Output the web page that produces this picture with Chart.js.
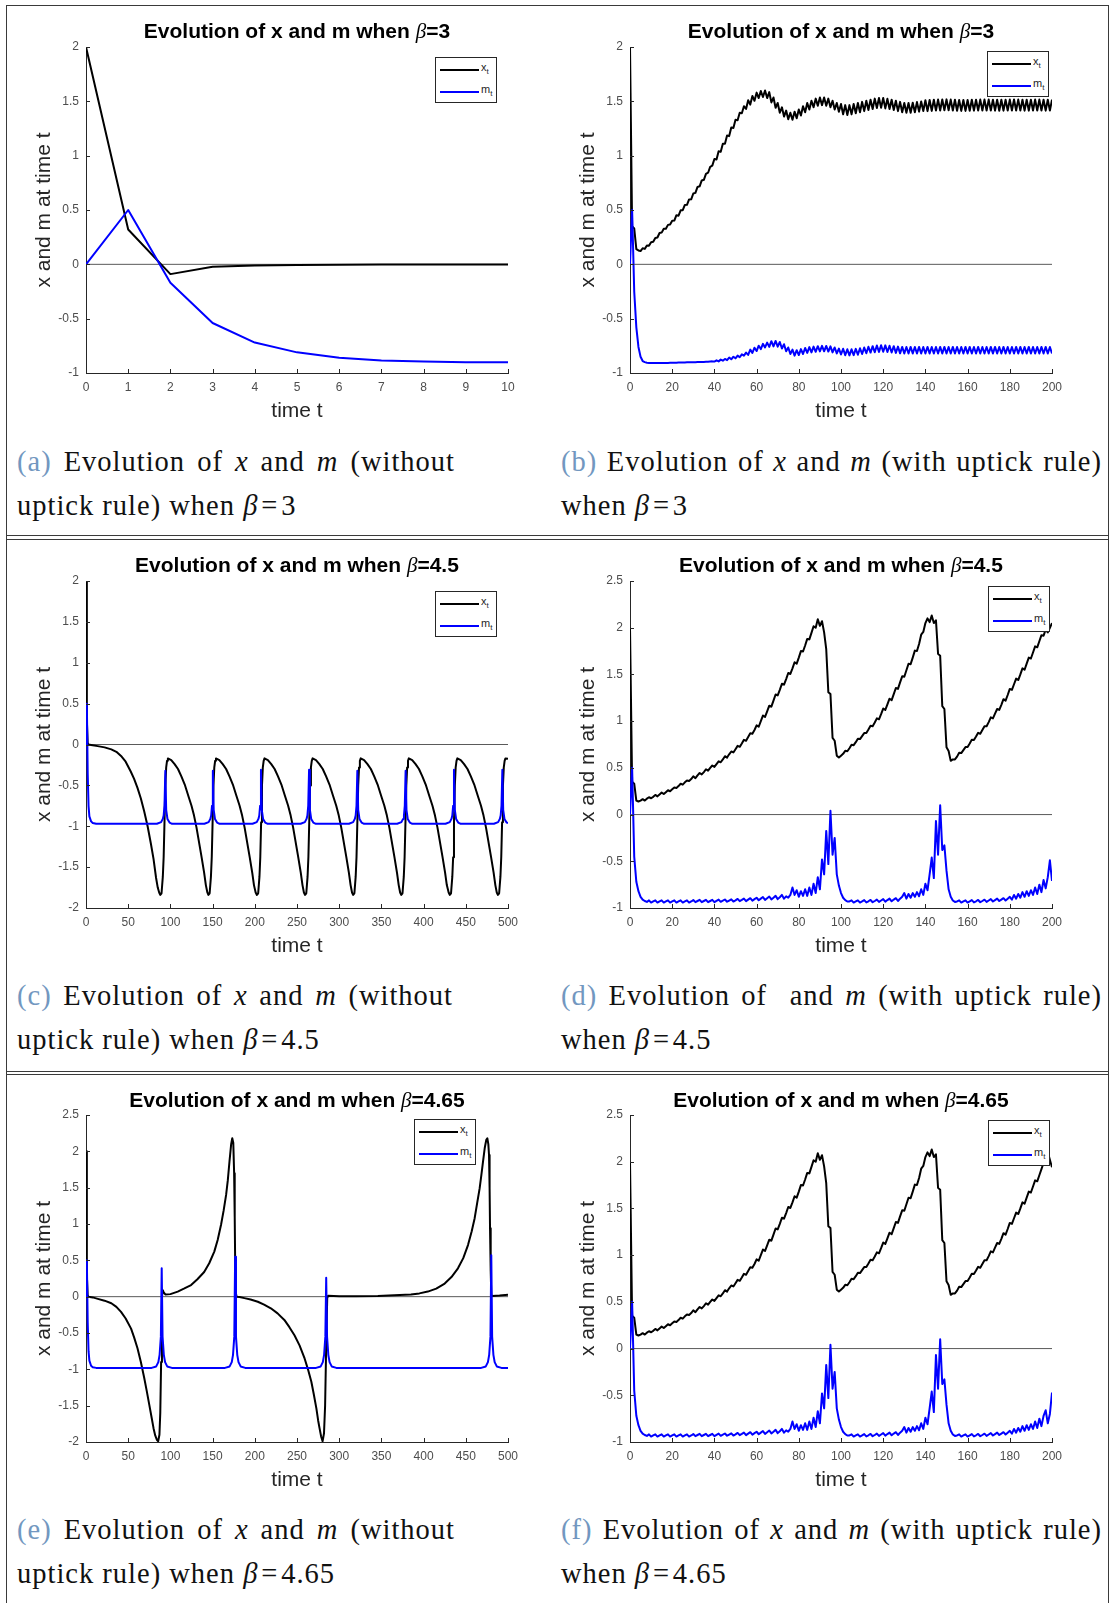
<!DOCTYPE html>
<html>
<head>
<meta charset="utf-8">
<script src="https://cdn.jsdelivr.net/npm/chart.js@4"></script>
<style>
  body { margin: 0; background: #fff; }
  #page { position: relative; width: 1110px; height: 1603px; overflow: hidden; background: #fff; }
  canvas { position: absolute; }
  .hl { position: absolute; left: 6px; width: 1103px; height: 1px; background: #3a3a3a; }
  .vl { position: absolute; top: 5px; width: 1px; height: 1598px; background: #3a3a3a; }
  .ttl { position: absolute; width: 500px; text-align: center; font: bold 21px 'Liberation Sans', Arial, sans-serif; line-height: 24px; color: #000; white-space: nowrap; }
  .ttl i { font: italic 400 21px 'Liberation Serif', serif; }
  .lg { position: absolute; width: 62px; height: 46px; border: 1px solid #262626; background: #fff; box-sizing: border-box; }
  .lg b { position: absolute; left: 4px; width: 39px; height: 2px; }
  .lg span { position: absolute; left: 45px; font: 11px 'Liberation Sans', Arial, sans-serif; color: #262626; line-height: 12px; }
  .lg sub { font-size: 8px; }
  .cap { position: absolute; font: 28.5px 'Liberation Serif', serif; letter-spacing: 1px; line-height: 44px; color: #111; white-space: nowrap; }
  .cap .l1 { text-align: justify; text-align-last: justify; }
  .cap .lab { color: #7297c0; }
  .cap .eq { margin: 0 0.1em; }
</style>
</head>
<body>
<div id="page">
  <div class="hl" style="top:5px"></div>
  <div class="hl" style="top:535px"></div>
  <div class="hl" style="top:539px"></div>
  <div class="hl" style="top:1071px"></div>
  <div class="hl" style="top:1074px"></div>
  <div class="vl" style="left:6px"></div>
  <div class="vl" style="left:1108px"></div>

  <canvas id="ca" width="540" height="424" style="left:0;top:0"></canvas>
  <canvas id="cb" width="540" height="424" style="left:544px;top:0"></canvas>
  <canvas id="cc" width="540" height="425" style="left:0;top:534px"></canvas>
  <canvas id="cd" width="540" height="425" style="left:544px;top:534px"></canvas>
  <canvas id="ce" width="540" height="425" style="left:0;top:1068px"></canvas>
  <canvas id="cf" width="540" height="425" style="left:544px;top:1068px"></canvas>

  <div class="ttl" style="left:47px;top:19px">Evolution of x and m when <i>β</i>=3</div>
  <div class="ttl" style="left:591px;top:19px">Evolution of x and m when <i>β</i>=3</div>
  <div class="ttl" style="left:47px;top:553px">Evolution of x and m when <i>β</i>=4.5</div>
  <div class="ttl" style="left:591px;top:553px">Evolution of x and m when <i>β</i>=4.5</div>
  <div class="ttl" style="left:47px;top:1088px">Evolution of x and m when <i>β</i>=4.65</div>
  <div class="ttl" style="left:591px;top:1088px">Evolution of x and m when <i>β</i>=4.65</div>

  <div class="lg" style="left:435px;top:57px"><b style="top:11px;background:#000"></b><span style="top:3px">x<sub>t</sub></span><b style="top:33px;background:#00f"></b><span style="top:25px">m<sub>t</sub></span></div>
  <div class="lg" style="left:987px;top:51px"><b style="top:11px;background:#000"></b><span style="top:3px">x<sub>t</sub></span><b style="top:33px;background:#00f"></b><span style="top:25px">m<sub>t</sub></span></div>
  <div class="lg" style="left:435px;top:591px"><b style="top:11px;background:#000"></b><span style="top:3px">x<sub>t</sub></span><b style="top:33px;background:#00f"></b><span style="top:25px">m<sub>t</sub></span></div>
  <div class="lg" style="left:988px;top:586px"><b style="top:11px;background:#000"></b><span style="top:3px">x<sub>t</sub></span><b style="top:33px;background:#00f"></b><span style="top:25px">m<sub>t</sub></span></div>
  <div class="lg" style="left:414px;top:1119px"><b style="top:11px;background:#000"></b><span style="top:3px">x<sub>t</sub></span><b style="top:33px;background:#00f"></b><span style="top:25px">m<sub>t</sub></span></div>
  <div class="lg" style="left:988px;top:1120px"><b style="top:11px;background:#000"></b><span style="top:3px">x<sub>t</sub></span><b style="top:33px;background:#00f"></b><span style="top:25px">m<sub>t</sub></span></div>

  <div class="cap" style="left:17px;top:440px;width:438px">
    <div class="l1"><span class="lab">(a)</span> Evolution of <i>x</i> and <i>m</i> (without</div>
    <div>uptick rule) when <i>β</i><span class="eq">=</span>3</div>
  </div>
  <div class="cap" style="left:561px;top:440px;width:541px">
    <div class="l1"><span class="lab">(b)</span> Evolution of <i>x</i> and <i>m</i> (with uptick rule)</div>
    <div>when <i>β</i><span class="eq">=</span>3</div>
  </div>
  <div class="cap" style="left:17px;top:974px;width:436px">
    <div class="l1"><span class="lab">(c)</span> Evolution of <i>x</i> and <i>m</i> (without</div>
    <div>uptick rule) when <i>β</i><span class="eq">=</span>4.5</div>
  </div>
  <div class="cap" style="left:561px;top:974px;width:541px">
    <div class="l1"><span class="lab">(d)</span> Evolution of &nbsp;and <i>m</i> (with uptick rule)</div>
    <div>when <i>β</i><span class="eq">=</span>4.5</div>
  </div>
  <div class="cap" style="left:17px;top:1508px;width:438px">
    <div class="l1"><span class="lab">(e)</span> Evolution of <i>x</i> and <i>m</i> (without</div>
    <div>uptick rule) when <i>β</i><span class="eq">=</span>4.65</div>
  </div>
  <div class="cap" style="left:561px;top:1508px;width:541px">
    <div class="l1"><span class="lab">(f)</span> Evolution of <i>x</i> and <i>m</i> (with uptick rule)</div>
    <div>when <i>β</i><span class="eq">=</span>4.65</div>
  </div>
</div>

<script>
// (a) beta=3, no uptick rule
const aT = [0, 1, 2, 3, 4, 5, 6, 7, 8, 9, 10];
const aX = [2, 0.32, -0.09, -0.022, -0.01, -0.005, -0.003, -0.002, -0.001, -0.001, -0.001];
const aM = [0, 0.5, -0.17, -0.54, -0.72, -0.81, -0.86, -0.885, -0.895, -0.9, -0.9];

// (b) beta=3, uptick rule, t = 0..200
const bX = [
  2.00, 0.35, 0.33, 0.14, 0.128, 0.122, 0.148, 0.142, 0.173, 0.172,
  0.203, 0.207, 0.243, 0.247, 0.288, 0.292, 0.328, 0.327, 0.363, 0.367,
  0.402, 0.403, 0.452, 0.448, 0.497, 0.498, 0.547, 0.548, 0.597, 0.598,
  0.652, 0.658, 0.712, 0.718, 0.772, 0.778, 0.832, 0.843, 0.897, 0.908,
  0.97, 0.965, 1.04, 1.035, 1.11, 1.11, 1.185, 1.18, 1.26, 1.255,
  1.33, 1.325, 1.395, 1.39, 1.455, 1.43, 1.51, 1.47, 1.55, 1.505,
  1.58, 1.53, 1.595, 1.54, 1.60, 1.53, 1.585, 1.49, 1.535, 1.44,
  1.485, 1.395, 1.445, 1.36, 1.415, 1.335, 1.395, 1.33, 1.405, 1.345,
  1.425, 1.37, 1.455, 1.40, 1.485, 1.425, 1.505, 1.445, 1.525, 1.46,
  1.535, 1.465, 1.535, 1.46, 1.525, 1.445, 1.505, 1.425, 1.485, 1.405,
  1.475, 1.38, 1.465, 1.375, 1.465, 1.38, 1.475, 1.39, 1.485, 1.40,
  1.495, 1.41, 1.505, 1.42, 1.515, 1.43, 1.525, 1.438, 1.53, 1.44,
  1.53, 1.435, 1.523, 1.43, 1.515, 1.42, 1.505, 1.41, 1.495, 1.40,
  1.485, 1.395, 1.485, 1.395, 1.487, 1.40, 1.493, 1.405, 1.498, 1.411,
  1.51, 1.41, 1.512, 1.412, 1.515, 1.415, 1.516, 1.416, 1.517, 1.418,
  1.518, 1.418, 1.516, 1.415, 1.514, 1.413, 1.512, 1.412, 1.512, 1.412,
  1.512, 1.413, 1.514, 1.414, 1.515, 1.415, 1.516, 1.416, 1.516, 1.416,
  1.516, 1.415, 1.515, 1.414, 1.514, 1.413, 1.514, 1.414, 1.515, 1.415,
  1.516, 1.416, 1.517, 1.416, 1.516, 1.415, 1.515, 1.414, 1.514, 1.414,
  1.515, 1.415, 1.516, 1.416, 1.516, 1.415, 1.515, 1.414, 1.515, 1.415,
  1.516
];
const bM = [
  0, 0.5, -0.25, -0.58, -0.76, -0.85, -0.89, -0.90, -0.905, -0.907,
  -0.908, -0.908, -0.908, -0.908, -0.908, -0.908, -0.907, -0.907, -0.907, -0.906,
  -0.906, -0.905, -0.905, -0.904, -0.904, -0.903, -0.903, -0.902, -0.902, -0.901,
  -0.90, -0.90, -0.899, -0.899, -0.898, -0.898, -0.897, -0.896, -0.894, -0.893,
  -0.895, -0.883, -0.893, -0.877, -0.887, -0.871, -0.882, -0.858, -0.874, -0.85,
  -0.865, -0.84, -0.855, -0.828, -0.84, -0.812, -0.834, -0.785, -0.816, -0.767,
  -0.798, -0.749, -0.78, -0.732, -0.765, -0.72, -0.76, -0.707, -0.755, -0.705,
  -0.758, -0.715, -0.775, -0.735, -0.80, -0.765, -0.825, -0.785, -0.84, -0.79,
  -0.835, -0.78, -0.825, -0.77, -0.815, -0.762, -0.81, -0.757, -0.805, -0.753,
  -0.801, -0.75, -0.80, -0.751, -0.803, -0.755, -0.81, -0.765, -0.82, -0.775,
  -0.83, -0.777, -0.836, -0.782, -0.838, -0.782, -0.836, -0.778, -0.832, -0.772,
  -0.825, -0.766, -0.818, -0.759, -0.812, -0.753, -0.809, -0.747, -0.806, -0.745,
  -0.805, -0.746, -0.807, -0.749, -0.811, -0.753, -0.815, -0.757, -0.819, -0.76,
  -0.821, -0.761, -0.82, -0.76, -0.821, -0.761, -0.82, -0.76, -0.821, -0.761,
  -0.82, -0.76, -0.82, -0.761, -0.821, -0.761, -0.82, -0.76, -0.82, -0.76,
  -0.821, -0.761, -0.82, -0.76, -0.82, -0.761, -0.821, -0.761, -0.82, -0.76,
  -0.82, -0.76, -0.821, -0.761, -0.82, -0.76, -0.82, -0.761, -0.821, -0.761,
  -0.82, -0.76, -0.82, -0.76, -0.821, -0.761, -0.82, -0.76, -0.82, -0.761,
  -0.821, -0.761, -0.82, -0.76, -0.82, -0.76, -0.821, -0.761, -0.82, -0.76,
  -0.82, -0.761, -0.821, -0.761, -0.82, -0.76, -0.82, -0.76, -0.821, -0.761,
  -0.82
];

// (c) beta=4.5, no uptick rule
const cTx = [
  0, 1, 2, 3, 6, 14, 22, 30, 36, 41.5, 47, 53, 57, 61, 65, 69, 73, 77, 80, 83, 85, 86.7,
  88, 89.5, 91, 92, 93, 94, 95, 96, 97, 101, 105, 109, 113, 117, 121, 125, 128, 131, 134, 137, 140, 142, 143.8,
  145, 146.5, 148, 149, 150, 151, 152, 153, 154, 158, 162, 166, 170, 174, 178, 182, 185, 188, 191, 194, 197, 199, 201,
  202.5, 204, 205.5, 206.5, 207.5, 208.5, 209.5, 210.5, 211.5, 215.5, 219.5, 223.5, 227.5, 231.5, 235.5, 239.5, 242.5, 245.5, 248.5, 251.5, 254.5, 256.5, 258.2,
  259.5, 261, 262.5, 263.5, 264.5, 265.5, 266.5, 267.5, 268.5, 272.5, 276.5, 280.5, 284.5, 288.5, 292.5, 296.5, 299.5, 302.5, 305.5, 308.5, 311.5, 313.5, 315.2,
  316.5, 318, 319.5, 320.5, 321.5, 322.5, 323.5, 324.5, 325.5, 329.5, 333.5, 337.5, 341.5, 345.5, 349.5, 353.5, 356.5, 359.5, 362.5, 365.5, 368.5, 370.5, 372.2,
  373.5, 375, 376.5, 377.5, 378.5, 379.5, 380.5, 381.5, 382.5, 386.5, 390.5, 394.5, 398.5, 402.5, 406.5, 410.5, 413.5, 416.5, 419.5, 422.5, 425.5, 427.5, 429.7,
  431, 432.5, 434, 435, 436, 437, 438, 439, 440, 444, 448, 452, 456, 460, 464, 468, 471, 474, 477, 480, 483, 485, 486.7,
  488, 489.5, 491, 492, 493, 494, 495, 496, 497, 500
];
const cX = [
  2, 0.3, 0.02, 0, -0.005, -0.02, -0.035, -0.06, -0.09, -0.14, -0.21, -0.33, -0.42, -0.53, -0.66, -0.82, -1.0, -1.22, -1.40, -1.63, -1.75, -1.81,
  -1.84, -1.82, -1.62, -1.38, -0.95, -0.50, -0.28, -0.20, -0.17, -0.19, -0.24, -0.30, -0.39, -0.49, -0.62, -0.75, -0.87, -1.02, -1.20, -1.38, -1.57, -1.72, -1.81,
  -1.84, -1.82, -1.62, -1.38, -0.95, -0.50, -0.28, -0.20, -0.17, -0.19, -0.24, -0.30, -0.39, -0.49, -0.62, -0.75, -0.87, -1.02, -1.20, -1.38, -1.57, -1.72, -1.81,
  -1.84, -1.82, -1.62, -1.38, -0.95, -0.50, -0.28, -0.20, -0.17, -0.19, -0.24, -0.30, -0.39, -0.49, -0.62, -0.75, -0.87, -1.02, -1.20, -1.38, -1.57, -1.72, -1.81,
  -1.84, -1.82, -1.62, -1.38, -0.95, -0.50, -0.28, -0.20, -0.17, -0.19, -0.24, -0.30, -0.39, -0.49, -0.62, -0.75, -0.87, -1.02, -1.20, -1.38, -1.57, -1.72, -1.81,
  -1.84, -1.82, -1.62, -1.38, -0.95, -0.50, -0.28, -0.20, -0.17, -0.19, -0.24, -0.30, -0.39, -0.49, -0.62, -0.75, -0.87, -1.02, -1.20, -1.38, -1.57, -1.72, -1.81,
  -1.84, -1.82, -1.62, -1.38, -0.95, -0.50, -0.28, -0.20, -0.17, -0.19, -0.24, -0.30, -0.39, -0.49, -0.62, -0.75, -0.87, -1.02, -1.20, -1.38, -1.57, -1.72, -1.81,
  -1.84, -1.82, -1.62, -1.38, -0.95, -0.50, -0.28, -0.20, -0.17, -0.19, -0.24, -0.30, -0.39, -0.49, -0.62, -0.75, -0.87, -1.02, -1.20, -1.38, -1.57, -1.72, -1.81,
  -1.84, -1.82, -1.62, -1.38, -0.95, -0.50, -0.28, -0.20, -0.17, -0.175
];
const cTm = [
  0, 1, 2, 3, 4, 6, 8, 12,
  84, 89, 91, 92, 93, 94, 95, 96.5, 99, 102,
  140.3, 145.3, 147.3, 148.3, 149.3, 150.3, 151.3, 152.8, 155.3, 158.3,
  197.3, 202.3, 204.3, 205.3, 206.3, 207.3, 208.3, 209.8, 212.3, 215.3,
  254.3, 259.3, 261.3, 262.3, 263.3, 264.3, 265.3, 266.8, 269.3, 272.3,
  311.5, 316.5, 318.5, 319.5, 320.5, 321.5, 322.5, 324, 326.5, 329.5,
  368.7, 373.7, 375.7, 376.7, 377.7, 378.7, 379.7, 381.2, 383.7, 386.7,
  426, 431, 433, 434, 435, 436, 437, 438.5, 441, 444,
  483.3, 488.3, 490.3, 491.3, 492.3, 493.3, 494.3, 495.8, 498.3, 500
];
const cM = [
  0, 0.5, -0.35, -0.75, -0.88, -0.94, -0.96, -0.97,
  -0.97, -0.95, -0.91, -0.87, -0.75, -0.32, -0.80, -0.91, -0.955, -0.97,
  -0.97, -0.95, -0.91, -0.87, -0.75, -0.32, -0.80, -0.91, -0.955, -0.97,
  -0.97, -0.95, -0.91, -0.87, -0.75, -0.31, -0.80, -0.91, -0.955, -0.97,
  -0.97, -0.95, -0.91, -0.87, -0.75, -0.31, -0.80, -0.91, -0.955, -0.97,
  -0.97, -0.95, -0.91, -0.87, -0.75, -0.32, -0.80, -0.91, -0.955, -0.97,
  -0.97, -0.95, -0.91, -0.87, -0.75, -0.32, -0.80, -0.91, -0.955, -0.97,
  -0.97, -0.95, -0.91, -0.87, -0.75, -0.31, -0.80, -0.91, -0.955, -0.97,
  -0.97, -0.95, -0.91, -0.87, -0.75, -0.31, -0.80, -0.91, -0.955, -0.96
];

// (d) beta=4.5, uptick rule, t = 0..200
const dX = [
  2.00, 0.35, 0.33, 0.15, 0.14, 0.15, 0.165, 0.15, 0.17, 0.185,
  0.175, 0.19, 0.21, 0.195, 0.215, 0.235, 0.22, 0.24, 0.26, 0.25,
  0.27, 0.29, 0.285, 0.305, 0.33, 0.32, 0.345, 0.365, 0.36, 0.38,
  0.41, 0.39, 0.42, 0.445, 0.43, 0.455, 0.485, 0.47, 0.50, 0.525,
  0.51, 0.54, 0.57, 0.56, 0.59, 0.625, 0.61, 0.645, 0.675, 0.665,
  0.70, 0.735, 0.725, 0.76, 0.80, 0.79, 0.83, 0.87, 0.865, 0.905,
  0.955, 0.94, 1.00, 1.06, 1.045, 1.105, 1.165, 1.155, 1.22, 1.285,
  1.275, 1.335, 1.40, 1.39, 1.45, 1.515, 1.505, 1.565, 1.63, 1.615,
  1.68, 1.75, 1.745, 1.81, 1.88, 1.875, 1.945, 2.015, 2.00, 2.09,
  2.02, 2.07, 1.95, 1.77, 1.31, 1.29, 0.82, 0.79, 0.63, 0.61,
  0.63, 0.65, 0.682, 0.678, 0.71, 0.747, 0.743, 0.775, 0.812, 0.808,
  0.84, 0.872, 0.873, 0.91, 0.95, 0.945, 0.985, 1.03, 1.02, 1.075,
  1.135, 1.12, 1.18, 1.24, 1.225, 1.29, 1.355, 1.345, 1.415, 1.48,
  1.475, 1.545, 1.615, 1.61, 1.68, 1.755, 1.75, 1.825, 1.925, 1.955,
  2.05, 2.10, 2.06, 2.13, 2.05, 2.08, 1.72, 1.70, 1.16, 1.13,
  0.72, 0.68, 0.575, 0.59, 0.59, 0.62, 0.662, 0.658, 0.69, 0.722,
  0.723, 0.76, 0.802, 0.798, 0.835, 0.875, 0.865, 0.905, 0.945, 0.945,
  0.99, 1.04, 1.03, 1.08, 1.13, 1.12, 1.175, 1.235, 1.22, 1.28,
  1.345, 1.335, 1.395, 1.455, 1.44, 1.50, 1.565, 1.55, 1.615, 1.68,
  1.67, 1.735, 1.80, 1.79, 1.855, 1.92, 1.915, 1.98, 1.95, 2.00,
  2.05
];
const dM = [
  0, 0.5, -0.45, -0.72, -0.82, -0.88, -0.91, -0.925, -0.935, -0.918,
  -0.942, -0.93, -0.918, -0.942, -0.93, -0.918, -0.942, -0.93, -0.918, -0.942,
  -0.93, -0.918, -0.942, -0.93, -0.918, -0.942, -0.93, -0.918, -0.942, -0.93,
  -0.915, -0.937, -0.925, -0.913, -0.937, -0.925, -0.913, -0.937, -0.925, -0.913,
  -0.937, -0.923, -0.91, -0.934, -0.922, -0.909, -0.933, -0.92, -0.907, -0.931,
  -0.918, -0.903, -0.927, -0.914, -0.9, -0.926, -0.91, -0.895, -0.922, -0.905,
  -0.89, -0.917, -0.9, -0.883, -0.913, -0.895, -0.877, -0.908, -0.89, -0.87,
  -0.905, -0.885, -0.86, -0.90, -0.875, -0.89, -0.86, -0.78, -0.86, -0.81,
  -0.88, -0.82, -0.87, -0.80, -0.87, -0.78, -0.86, -0.74, -0.84, -0.67,
  -0.80, -0.48, -0.64, -0.175, -0.53, 0.04, -0.43, -0.25, -0.64, -0.76,
  -0.84, -0.89, -0.915, -0.93, -0.93, -0.918, -0.942, -0.93, -0.918, -0.942,
  -0.93, -0.916, -0.94, -0.928, -0.914, -0.938, -0.925, -0.91, -0.935, -0.92,
  -0.905, -0.932, -0.915, -0.9, -0.928, -0.91, -0.895, -0.925, -0.9, -0.88,
  -0.84, -0.9, -0.85, -0.89, -0.84, -0.88, -0.83, -0.875, -0.80, -0.86,
  -0.74, -0.81, -0.64, -0.46, -0.68, -0.07, -0.43, 0.1, -0.38, -0.33,
  -0.6, -0.8, -0.88, -0.92, -0.935, -0.93, -0.918, -0.942, -0.93, -0.918,
  -0.942, -0.93, -0.916, -0.94, -0.928, -0.914, -0.938, -0.925, -0.911, -0.935,
  -0.92, -0.905, -0.93, -0.915, -0.9, -0.925, -0.91, -0.895, -0.92, -0.9,
  -0.88, -0.91, -0.86, -0.9, -0.85, -0.89, -0.83, -0.88, -0.82, -0.87,
  -0.81, -0.86, -0.78, -0.85, -0.75, -0.83, -0.7, -0.79, -0.67, -0.49,
  -0.71
];

// (e) beta=4.65, no uptick rule
const eTx = [
  0, 1, 2, 3, 8, 14, 22, 30, 36, 41.5, 47, 53.4, 57, 61, 65, 69, 72, 75, 78, 80,
  82, 84, 85.5, 87, 88, 89, 90, 91, 92, 94, 100, 108.7, 116, 124.5, 132, 140, 146, 152, 156, 160,
  163, 166, 168, 170, 172, 173.3, 174.5, 175.5, 176.2, 176.8, 177.5, 178.5, 182, 187.7, 195, 203.6, 211, 219, 227, 235,
  241, 247, 253, 259, 263, 267, 270, 273, 275, 276.7, 278.5, 280.3, 282, 283.3, 284.6, 285.8, 286.8, 300, 320, 345.8,
  365, 385, 395, 405, 415, 425, 433, 440.7, 447, 452.6, 457, 460.5, 463.5, 466.4, 468.5, 470.4, 472.5, 474.3, 475.5, 476.7,
  477.5, 478.2, 478.7, 479.5, 480.2, 481.5, 490, 500
];
const eX = [
  2, 0.3, 0.02, 0, -0.01, -0.03, -0.055, -0.09, -0.14, -0.21, -0.30, -0.44, -0.56, -0.71, -0.90, -1.12, -1.30, -1.49, -1.68, -1.81,
  -1.91, -1.97, -1.99, -1.90, -1.60, -0.90, 0.0, 0.09, 0.06, 0.03, 0.035, 0.07, 0.11, 0.16, 0.24, 0.34, 0.46, 0.62, 0.78, 0.99,
  1.18, 1.40, 1.60, 1.86, 2.10, 2.18, 2.12, 1.70, 1.10, 0.40, 0.05, 0.0, -0.005, -0.02, -0.04, -0.07, -0.11, -0.16, -0.23, -0.32,
  -0.42, -0.53, -0.67, -0.85, -1.0, -1.17, -1.35, -1.54, -1.70, -1.81, -1.92, -1.99, -1.88, -1.50, -0.67, -0.02, 0.012, 0.005, 0.006, 0.01,
  0.018, 0.03, 0.045, 0.07, 0.11, 0.18, 0.27, 0.39, 0.53, 0.71, 0.90, 1.08, 1.29, 1.49, 1.68, 1.86, 2.05, 2.16, 2.18, 2.10,
  1.95, 1.50, 0.94, 0.35, 0.02, 0.01, 0.015, 0.025
];
const eTm = [
  0, 1, 2, 3, 4, 6, 8, 12,
  77.7, 83.2, 85.7, 87.2, 88.7, 89.7, 90.7, 92.2, 93.7, 96.2, 101.7,
  164.7, 170.2, 172.7, 174.2, 175.7, 176.7, 177.7, 179.2, 180.7, 183.2, 188.7,
  272.6, 278.1, 280.6, 282.1, 283.6, 284.6, 285.6, 287.1, 288.6, 291.1, 296.6,
  468.2, 473.7, 476.2, 477.7, 479.2, 480.2, 481.2, 482.7, 484.2, 486.7, 492.2,
  500
];
const eM = [
  0, 0.5, -0.35, -0.75, -0.88, -0.95, -0.97, -0.98,
  -0.98, -0.96, -0.90, -0.80, -0.55, 0.39, -0.55, -0.80, -0.90, -0.96, -0.98,
  -0.98, -0.96, -0.90, -0.80, -0.55, 0.55, -0.55, -0.80, -0.90, -0.96, -0.98,
  -0.98, -0.96, -0.90, -0.80, -0.55, 0.26, -0.55, -0.80, -0.90, -0.96, -0.98,
  -0.98, -0.96, -0.90, -0.80, -0.55, 0.57, -0.55, -0.80, -0.90, -0.96, -0.98,
  -0.98
];

// (f) beta=4.65, uptick rule: same path as (d) up to t=195, own last steps
const fXTail = [1.99, 2.06, 2.10, 2.02, 1.94];
const fMTail = [-0.72, -0.66, -0.8, -0.7, -0.47];
const fX = dX.slice(0, 196).concat(fXTail);
const fM = dM.slice(0, 196).concat(fMTail);

const steps = bX.map((v, i) => i);

const FONT = "'Liberation Sans', Arial, sans-serif";

function pts(ts, vs) {
  return ts.map((t, i) => ({ x: t, y: vs[i] }));
}

function fmt(v) {
  return String(Math.round(v * 100) / 100);
}

// matlab style ticks, pointing into the plot
const inwardTicks = {
  id: 'inwardTicks',
  afterDraw(chart) {
    const { ctx, chartArea, scales } = chart;
    ctx.save();
    ctx.strokeStyle = '#262626';
    ctx.lineWidth = 1;
    ctx.beginPath();
    scales.x.ticks.forEach((t) => {
      const px = Math.round(scales.x.getPixelForValue(t.value)) + 0.5;
      ctx.moveTo(px, chartArea.bottom);
      ctx.lineTo(px, chartArea.bottom - 4);
    });
    scales.y.ticks.forEach((t) => {
      const py = Math.round(scales.y.getPixelForValue(t.value)) + 0.5;
      ctx.moveTo(chartArea.left, py);
      ctx.lineTo(chartArea.left + 4, py);
    });
    ctx.stroke();
    ctx.restore();
  }
};

function drawPanel(id, p) {
  new Chart(document.getElementById(id), {
    type: 'line',
    data: {
      datasets: [
        { data: p.m, borderColor: '#0000ff', borderWidth: 2 },
        { data: p.x, borderColor: '#000000', borderWidth: 2 },
        { data: [{ x: 0, y: 0 }, { x: p.xMax, y: 0 }], borderColor: '#5a5a5a', borderWidth: 1 }
      ]
    },
    options: {
      responsive: false,
      animation: false,
      layout: { padding: { left: 0, right: 32, top: 47, bottom: 0 } },
      elements: {
        point: { radius: 0 },
        line: { tension: 0, fill: false, borderJoinStyle: 'round' }
      },
      plugins: { legend: { display: false }, tooltip: { enabled: false }, title: { display: false } },
      scales: {
        x: {
          type: 'linear',
          min: 0,
          max: p.xMax,
          afterFit: (s) => { s.height = 51; },
          grid: { display: false, drawTicks: false },
          border: { display: true, color: '#262626', width: 1 },
          ticks: { stepSize: p.xStep, autoSkip: false, maxRotation: 0, padding: 7, color: '#4d4d4d', font: { family: FONT, size: 12 }, callback: fmt },
          title: { display: true, text: 'time t', color: '#262626', font: { family: FONT, size: 21 }, padding: { top: 0, bottom: 0 } }
        },
        y: {
          type: 'linear',
          min: p.yMin,
          max: p.yMax,
          afterFit: (s) => { s.width = 86; },
          grid: { display: false, drawTicks: false },
          border: { display: true, color: '#262626', width: 1 },
          ticks: { stepSize: 0.5, autoSkip: false, padding: 7, color: '#4d4d4d', font: { family: FONT, size: 12 }, callback: fmt },
          title: { display: true, text: 'x and m at time t', color: '#262626', font: { family: FONT, size: 21 }, padding: { top: 32, bottom: 0 } }
        }
      }
    },
    plugins: [inwardTicks]
  });
}

drawPanel('ca', { x: pts(aT, aX), m: pts(aT, aM), xMax: 10, xStep: 1, yMin: -1, yMax: 2 });
drawPanel('cb', { x: pts(steps, bX), m: pts(steps, bM), xMax: 200, xStep: 20, yMin: -1, yMax: 2 });
drawPanel('cc', { x: pts(cTx, cX), m: pts(cTm, cM), xMax: 500, xStep: 50, yMin: -2, yMax: 2 });
drawPanel('cd', { x: pts(steps, dX), m: pts(steps, dM), xMax: 200, xStep: 20, yMin: -1, yMax: 2.5 });
drawPanel('ce', { x: pts(eTx, eX), m: pts(eTm, eM), xMax: 500, xStep: 50, yMin: -2, yMax: 2.5 });
drawPanel('cf', { x: pts(steps, fX), m: pts(steps, fM), xMax: 200, xStep: 20, yMin: -1, yMax: 2.5 });
</script>
</body>
</html>
